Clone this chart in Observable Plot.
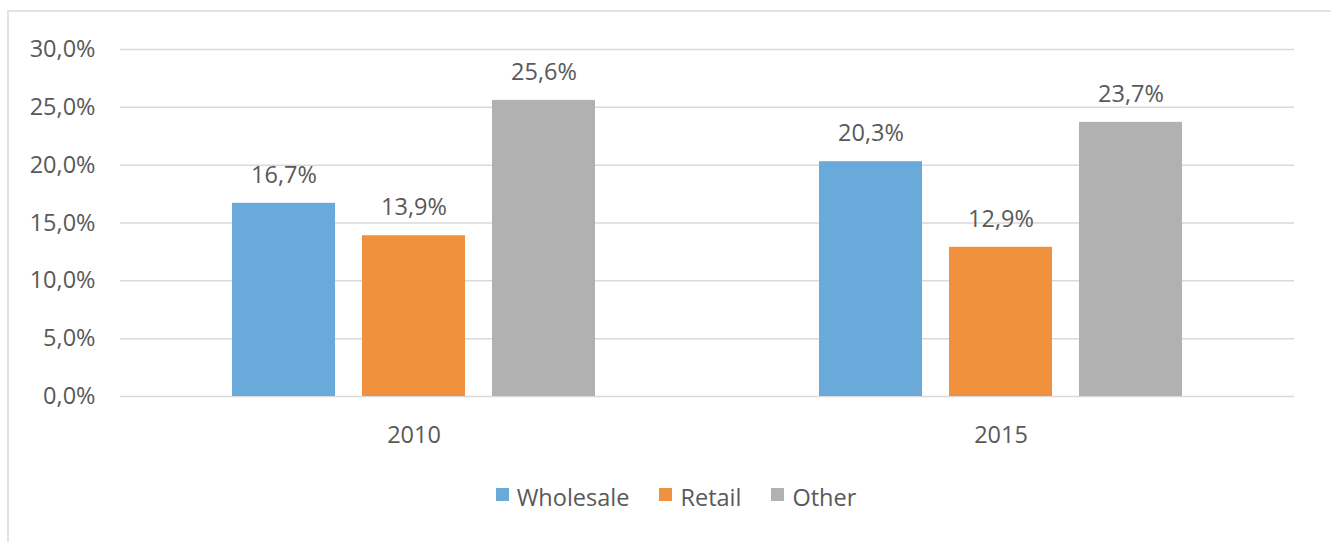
<!DOCTYPE html>
<html>
<head>
<meta charset="utf-8">
<script src="https://cdn.jsdelivr.net/npm/d3@7"></script>
<script src="https://cdn.jsdelivr.net/npm/@observablehq/plot@0.6"></script>
<style>
  html, body { margin: 0; padding: 0; background: #fff; }
  body { width: 1331px; height: 542px; position: relative; overflow: hidden; font-family: "Open Sans", sans-serif; }
  #frame { position: absolute; left: 7px; top: 10px; width: 1340px; height: 560px; border-left: 2px solid #e3e3e3; border-top: 2px solid #e3e3e3; }
  #chart { position: absolute; left: 0; top: 0; }
  #legend { position: absolute; left: 0; top: 481px; width: 1331px; display: flex; justify-content: center; font-size: 23.5px; color: #595959; padding-left: 21px; box-sizing: border-box; }
  .item { display: flex; align-items: center; margin: 0 15px; }
  .sw { width: 13px; height: 13px; margin-right: 8px; margin-top: -6px; }
</style>
</head>
<body>
<div id="frame"></div>
<div id="chart"></div>
<div id="legend"></div>
<script>
const years = ["2010", "2015"];
const series = ["Wholesale", "Retail", "Other"];
const colors = ["#6AAADB", "#F0913E", "#B1B1B1"];
const values2010 = [16.7, 13.9, 25.6];
const values2015 = [20.3, 12.9, 23.7];
const yTicks = [0, 5, 10, 15, 20, 25, 30];

const data = [];
[values2010, values2015].forEach((vals, i) => {
  vals.forEach((v, j) => data.push({year: years[i], series: series[j], value: v}));
});
const fmt = v => v.toFixed(1).replace(".", ",") + "%";
const FS = 23.5;

const chart = Plot.plot({
  width: 1331,
  height: 460,
  marginLeft: 120,
  marginRight: 37,
  marginTop: 49,
  marginBottom: 64,
  style: { fontFamily: "Open Sans, sans-serif", fontSize: FS + "px", color: "#595959", background: "transparent" },
  fx: { domain: years, padding: 0, label: null },
  x: { domain: series, paddingInner: 0.21, paddingOuter: 0.85, axis: null },
  y: { domain: [0, 30], ticks: yTicks, label: null },
  color: { domain: series, range: colors },
  marks: [
    Plot.ruleY(yTicks, { stroke: "#d9d9d9", strokeWidth: 1.5 }),
    Plot.axisY(yTicks, { tickSize: 0, tickPadding: 25, tickFormat: fmt, fontSize: FS, fill: "#595959", label: null }),
    Plot.axisFx({ anchor: "bottom", tickSize: 0, tickPadding: 30, fontSize: FS, fill: "#595959", label: null }),
    Plot.barY(data, { fx: "year", x: "series", y: "value", fill: "series" }),
    Plot.text(data, { fx: "year", x: "series", y: "value", text: d => fmt(d.value), dy: -28, fontSize: FS, fill: "#595959" })
  ]
});
document.getElementById("chart").appendChild(chart);

const legend = document.getElementById("legend");
series.forEach((s, i) => {
  const item = document.createElement("div");
  item.className = "item";
  const sw = document.createElement("span");
  sw.className = "sw";
  sw.style.background = colors[i];
  const t = document.createElement("span");
  t.textContent = s;
  item.appendChild(sw);
  item.appendChild(t);
  legend.appendChild(item);
});
</script>
</body>
</html>
